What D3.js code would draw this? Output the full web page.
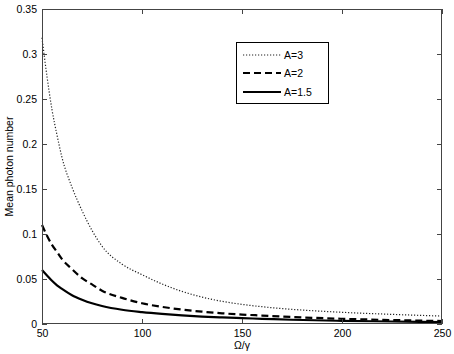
<!DOCTYPE html>
<html><head><meta charset="utf-8">
<script src="https://cdn.jsdelivr.net/npm/d3@7"></script>
<style>body{margin:0;background:#fff}svg{display:block}text{font-family:"Liberation Sans",Arial,sans-serif}</style>
</head><body><svg id="c" width="454" height="354"></svg>
<script>
const omega = [50,52.5,55,57.5,60,65,70,75,80,90,100,110,120,130,140,150,160,175,200,225,250];
const a3    = [0.318,0.275,0.238,0.210,0.185,0.152,0.126,0.104,0.0865,0.0665,0.0548,0.0445,0.0362,0.0299,0.0252,0.0218,0.0192,0.0163,0.0130,0.0107,0.0088];
const a2    = [0.110,0.098,0.088,0.080,0.072,0.061,0.051,0.044,0.037,0.029,0.023,0.019,0.016,0.0137,0.0119,0.0105,0.0094,0.0078,0.0058,0.0044,0.0033];
const a15   = [0.060,0.054,0.048,0.043,0.039,0.032,0.027,0.023,0.020,0.0158,0.0132,0.0112,0.0096,0.0083,0.0073,0.0065,0.0058,0.0047,0.0035,0.0028,0.0022];
const xTicks = [50,100,150,200,250];
const yTicks = [0,0.05,0.1,0.15,0.2,0.25,0.3,0.35];
const seriesNames = ["A=3","A=2","A=1.5"];

const L=42,R=442,T=9,B=324;
const svg=d3.select("#c");
const x=d3.scaleLinear().domain([50,250]).range([L,R]);
const y=d3.scaleLinear().domain([0,0.35]).range([B,T]);
const ax="#444";

const series=[
 {name:seriesNames[0],vals:a3,dash:"1.2,1.8",w:1.2,col:"#222"},
 {name:seriesNames[1],vals:a2,dash:"7,4",w:2.2,col:"#000"},
 {name:seriesNames[2],vals:a15,dash:null,w:2.2,col:"#000"}
];
const line=d3.line().x(d=>x(d[0])).y(d=>y(d[1])).curve(d3.curveMonotoneX);
series.forEach(s=>{
  svg.append("path").attr("d",line(omega.map((o,i)=>[o,s.vals[i]])))
   .attr("fill","none").attr("stroke",s.col).attr("stroke-width",s.w)
   .attr("stroke-dasharray",s.dash);
});

svg.append("rect").attr("x",L+0.5).attr("y",T+0.5).attr("width",R-L-1).attr("height",B-T-1)
  .attr("fill","none").attr("stroke",ax).attr("stroke-width",1);

const fs="10.5px";
const xb=svg.append("g").attr("transform",`translate(0,${B})`)
  .call(d3.axisBottom(x).tickValues(xTicks).tickSize(-5).tickPadding(6).tickFormat(d3.format("d")));
const xt=svg.append("g").attr("transform",`translate(0,${T})`)
  .call(d3.axisTop(x).tickValues(xTicks).tickSize(-5).tickFormat(""));
const yl=svg.append("g").attr("transform",`translate(${L},0)`)
  .call(d3.axisLeft(y).tickValues(yTicks).tickSize(-5).tickPadding(5).tickFormat(d=>d===0?"0":String(d)));
const yr=svg.append("g").attr("transform",`translate(${R},0)`)
  .call(d3.axisRight(y).tickValues(yTicks).tickSize(-5).tickFormat(""));
[xb,xt,yl,yr].forEach(g=>{
  g.select(".domain").remove();
  g.selectAll("line").attr("stroke",ax);
  g.selectAll("text").attr("fill","#000").style("font-size",fs).style("font-family","'Liberation Sans',Arial,sans-serif");
});

svg.append("text").attr("x",(L+R)/2).attr("y",349).attr("text-anchor","middle")
  .style("font-size",fs).text("Ω/γ");
svg.append("text").attr("transform",`translate(13,${(T+B)/2}) rotate(-90)`).attr("text-anchor","middle")
  .style("font-size",fs).text("Mean photon number");

const lg=svg.append("g");
lg.append("rect").attr("x",236.5).attr("y",42.5).attr("width",92).attr("height",61)
  .attr("fill","#fff").attr("stroke","#000").attr("stroke-width",1);
const ly=[55,73,92];
series.forEach((s,i)=>{
  lg.append("line").attr("x1",243).attr("x2",281).attr("y1",ly[i]).attr("y2",ly[i])
    .attr("stroke",s.col).attr("stroke-width",s.w).attr("stroke-dasharray",s.dash);
  lg.append("text").attr("x",284).attr("y",ly[i]+4).style("font-size",fs).text(s.name);
});
</script></body></html>
